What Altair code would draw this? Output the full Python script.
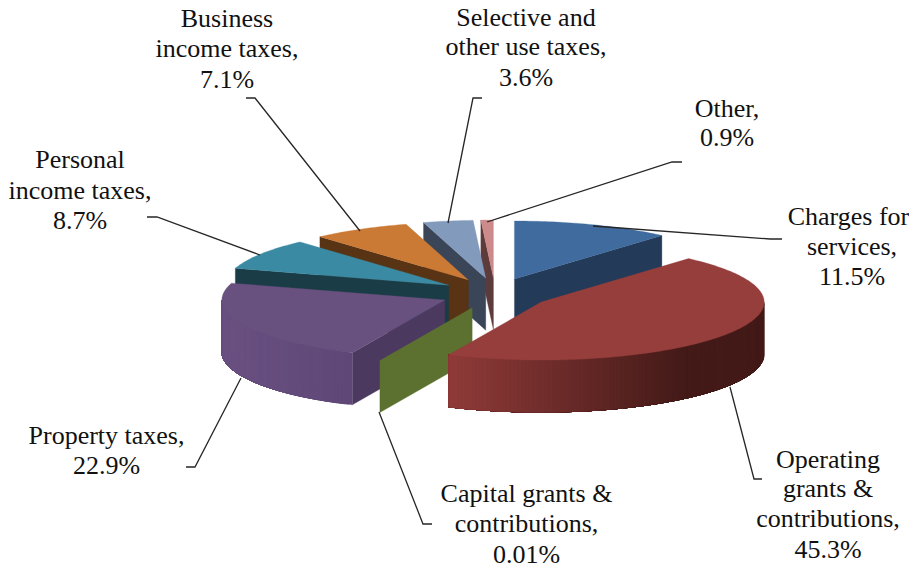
import math
import altair as alt

# ---- data ----
categories = ["Charges for services", "Operating grants & contributions",
              "Capital grants & contributions", "Property taxes",
              "Personal income taxes", "Business income taxes",
              "Selective and other use taxes", "Other"]
shares = [11.5, 45.3, 0.01, 22.9, 8.7, 7.1, 3.6, 0.9]

# ---- label text ----
label_lines = [
    ["Charges for", "services,", "11.5%"],
    ["Operating", "grants &", "contributions,", "45.3%"],
    ["Capital grants &", "contributions,", "0.01%"],
    ["Property taxes,", "22.9%"],
    ["Personal", "income taxes,", "8.7%"],
    ["Business", "income taxes,", "7.1%"],
    ["Selective and", "other use taxes,", "3.6%"],
    ["Other,", "0.9%"],
]
label_x = [
    [848.5, 852, 852],
    [828, 828, 828, 828],
    [526.5, 526.5, 526.5],
    [106.5, 106.5],
    [80, 80, 80],
    [227, 227, 227],
    [526, 526, 526],
    [727, 727],
]
label_y = [
    [217, 247, 277],
    [460, 489, 519, 550],
    [494, 524, 555],
    [436, 466],
    [160, 191, 221],
    [19, 49, 80],
    [18, 47, 78],
    [109, 138],
]
leader_x = [
    [782, 770, 593],
    [730, 754, 762],
    [379, 423, 432],
    [241, 195, 186],
    [147, 157, 260],
    [246, 255, 360],
    [482, 473, 448],
    [682, 672, 487],
]
leader_y = [
    [239, 239, 226],
    [387, 479, 479],
    [412, 524, 524],
    [378, 467, 467],
    [217, 217, 255],
    [98, 98, 231],
    [98, 98, 223],
    [162, 162, 222],
]

# ---- styles ----
top_fill = ["#3f6b9e", "#953e3c", "#5c7030", "#68507f", "#3a8aa3", "#cb7a35", "#829abb", "#cc8b8a"]
side_fill = ["#243a59", "#953e3c", "#5c7030", "#4c3960", "#193c47", "#583314", "#3a4558", "#5e3b3b"]
rim_left = ["#243a59", "#903b39", "#5c7030", "#6a5182", "#193c47", "#583314", "#3a4558", "#5e3b3b"]
rim_right = ["#243a59", "#431a18", "#5c7030", "#5f4877", "#193c47", "#583314", "#3a4558", "#5e3b3b"]
rim_span = [1, 0.76, 1, 1, 1, 1, 1, 1]
PAGE_W, PAGE_H, MARGIN = 917, 569, 8
CX, CY = 495.0, 293.6
EX, EY = 55.0, 15.6
RX, RY, DEPTH = 223.0, 58.0, 52.0
draw_order = [0, 7, 6, 5, 4, 3, 2, 1]


def hex_rgb(c):
    return [int(c[i:i + 2], 16) for i in (1, 3, 5)]


def lerp(a, b, t):
    t = max(0.0, min(1.0, t))
    ra, rb = hex_rgb(a), hex_rgb(b)
    return "#" + "".join(f"{round(x + (y - x) * t):02x}" for x, y in zip(ra, rb))


def feature(poly, fill):
    ring = [[round(x, 2), round(y, 2)] for x, y in poly]
    ring.append(ring[0])
    return {"type": "Feature",
            "geometry": {"type": "Polygon", "coordinates": [ring]},
            "properties": {"fill": fill}}


total = sum(shares)
starts, acc = [], 0.0
for v in shares:
    starts.append(acc / total * 360)
    acc += v


def rim(ax, ay, deg):
    r = math.radians(deg)
    return (ax + RX * math.sin(r), ay - RY * math.cos(r))


features = []
for i in draw_order:
    a0 = starts[i]
    a1 = a0 + shares[i] / total * 360
    mid = math.radians((a0 + a1) / 2)
    ax = CX + EX * math.sin(mid)
    ay = CY - EY * math.cos(mid)

    # radial side faces: whichever faces the viewer
    for edge_deg, normal_deg in ((a0, a0 - 90), (a1, a1 + 90)):
        if math.cos(math.radians(normal_deg)) < 0 and i != 1:
            p = rim(ax, ay, edge_deg)
            features.append(feature(
                [(ax, ay), p, (p[0], p[1] + DEPTH), (ax, ay + DEPTH)], side_fill[i]))

    # outer wall: front half of the rim; each band runs to the wall's far end
    # and the next one overpaints it, so no seams show between the shades
    lo, hi = max(a0, 90.0), min(a1, 270.0)
    if hi - lo > 1:
        xs = [rim(ax, ay, lo)[0], rim(ax, ay, hi)[0]]
        xmin = min(xs)
        xspan = abs(xs[0] - xs[1]) * rim_span[i]
        d = lo
        while d < hi:
            n = max(1, int(hi - d))
            arc = [rim(ax, ay, d + (hi - d) * k / n) for k in range(n + 1)]
            t = (arc[0][0] - xmin) / xspan
            poly = arc + [(p[0], p[1] + DEPTH) for p in reversed(arc)]
            features.append(feature(poly, lerp(rim_left[i], rim_right[i], t)))
            d += 1.0

    # top surface
    if a1 - a0 > 0.5:
        n = max(2, int(a1 - a0) + 1)
        arc = [rim(ax, ay, a0 + (a1 - a0) * k / n) for k in range(n + 1)]
        features.append(feature([(ax, ay)] + arc, top_fill[i]))

pie = (
    alt.Chart(alt.Data(values=features))
    .mark_geoshape(strokeWidth=0.3)
    .encode(
        fill=alt.Fill("properties.fill:N", scale=None),
        stroke=alt.Stroke("properties.fill:N", scale=None),
    )
    .project(type="identity", scale=1, translate=[-MARGIN, -MARGIN])
)

x_scale = alt.Scale(domain=[MARGIN, PAGE_W - MARGIN], range=[0, PAGE_W - 2 * MARGIN], nice=False, zero=False)
y_scale = alt.Scale(domain=[MARGIN, PAGE_H], range=[0, PAGE_H - MARGIN], nice=False, zero=False)

leader_rows = []
for c, xs, ys in zip(categories, leader_x, leader_y):
    for k, (x, y) in enumerate(zip(xs, ys)):
        leader_rows.append({"cat": c, "k": k, "x": x, "y": y})
leaders = (
    alt.Chart(alt.Data(values=leader_rows))
    .mark_line(color="#262626", strokeWidth=1.3)
    .encode(
        x=alt.X("x:Q", scale=x_scale, axis=None),
        y=alt.Y("y:Q", scale=y_scale, axis=None),
        detail="cat:N",
        order="k:Q",
    )
)

text_rows = []
for lines, xs, ys in zip(label_lines, label_x, label_y):
    for line, x, y in zip(lines, xs, ys):
        text_rows.append({"t": line, "x": x, "y": y})
labels = (
    alt.Chart(alt.Data(values=text_rows))
    .mark_text(font="Liberation Serif", fontSize=26, color="#111111", align="center", baseline="middle")
    .encode(
        x=alt.X("x:Q", scale=x_scale, axis=None),
        y=alt.Y("y:Q", scale=y_scale, axis=None),
        text="t:N",
    )
)

chart = (
    alt.layer(pie, leaders, labels)
    .properties(width=PAGE_W - 2 * MARGIN, height=PAGE_H - MARGIN, padding=0,
                autosize=alt.AutoSizeParams(type="none"), background="#ffffff")
    .configure_view(strokeWidth=0)
)
chart.save("out.html", embed_options={"renderer": "svg", "actions": False})
